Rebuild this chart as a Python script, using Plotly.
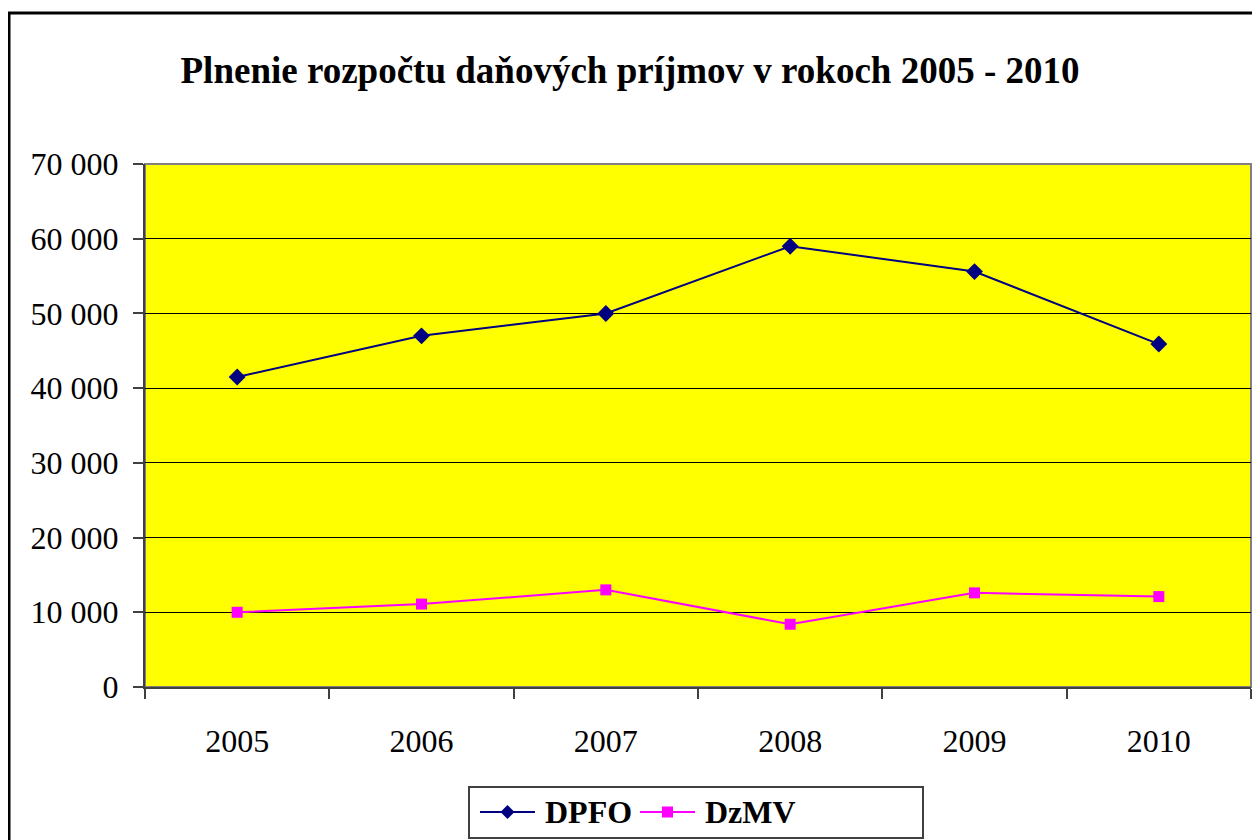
import plotly.graph_objects as go

years = ["2005", "2006", "2007", "2008", "2009", "2010"]
dpfo = [41500, 47000, 50000, 59000, 55600, 45900]
dzmv = [10000, 11100, 13000, 8400, 12600, 12100]
y_ticks = [0, 10000, 20000, 30000, 40000, 50000, 60000, 70000]
y_labels = ["0", "10 000", "20 000", "30 000", "40 000", "50 000", "60 000", "70 000"]
series_names = ["DPFO", "DzMV"]
series_colors = ["#000080", "#FF00FF"]

FONT = "Liberation Serif"

# page body has an 8px margin; work in figure pixel coords
W, H = 1252, 832
L, R, T, B = 137, 9, 156, 153
PW, PH = W - L - R, H - T - B


def px(x):
    return (x - 8 - L) / PW


def py(y):
    return (H - B - (y - 8)) / PH


fig = go.Figure()
fig.add_trace(go.Scatter(x=years, y=dpfo, name=series_names[0], mode="lines+markers",
                         line=dict(color=series_colors[0], width=2),
                         marker=dict(symbol="diamond", size=13, color=series_colors[0])))
fig.add_trace(go.Scatter(x=years, y=dzmv, name=series_names[1], mode="lines+markers",
                         line=dict(color=series_colors[1], width=2),
                         marker=dict(symbol="square", size=11, color=series_colors[1])))

fig.update_layout(
    width=W, height=H,
    margin=dict(l=L, r=R, t=T, b=B, autoexpand=False),
    paper_bgcolor="white", plot_bgcolor="#FFFF00",
    font=dict(family=FONT, color="black", size=32),
    title=dict(text="<b>Plnenie rozpočtu daňových príjmov v rokoch 2005 - 2010</b>",
               x=(630 - 8) / W, xanchor="center", y=1 - 62 / H, yanchor="middle",
               font=dict(family=FONT, size=37, color="black")),
    showlegend=False,
)
fig.update_xaxes(type="category", range=[-0.5, 5.5], tickson="boundaries",
                 ticks="outside", ticklen=10, tickcolor="#404040", tickwidth=2,
                 showline=True, linecolor="#404040", linewidth=2,
                 showgrid=False, ticklabelstandoff=25, automargin=False,
                 tickfont=dict(family=FONT, size=32, color="black"))
fig.update_yaxes(range=[0, 70000], tickvals=y_ticks, ticktext=y_labels,
                 ticks="outside", ticklen=10, tickcolor="#404040", tickwidth=2,
                 showline=True, linecolor="#404040", linewidth=2,
                 showgrid=True, gridcolor="black", gridwidth=1, zeroline=False,
                 ticklabelstandoff=8, automargin=False,
                 tickfont=dict(family=FONT, size=32, color="black"))

# plot area border (top/right grey)
fig.add_shape(type="rect", xref="paper", yref="paper", x0=0, y0=0, x1=1, y1=1,
              line=dict(color="#808080", width=2), layer="below")

# legend box (drawn manually to match long legend keys)
fig.add_shape(type="rect", xref="paper", yref="paper",
              x0=px(469), x1=px(923), y0=py(838), y1=py(787),
              line=dict(color="#404040", width=2), fillcolor="white", layer="below")
ly = py(812)
for i, (name, col) in enumerate(zip(series_names, series_colors)):
    x0 = 480 + 160 * i
    fig.add_shape(type="line", xref="paper", yref="paper",
                  x0=px(x0), x1=px(x0 + 55), y0=ly, y1=ly,
                  line=dict(color=col, width=2))
    cx = x0 + 27.5
    if i == 0:
        d = 7
        fig.add_shape(type="path", xref="paper", yref="paper",
                      path=f"M {px(cx - d)} {ly} L {px(cx)} {py(812 - d)} L {px(cx + d)} {ly} L {px(cx)} {py(812 + d)} Z",
                      fillcolor=col, line=dict(color=col, width=0))
    else:
        s = 5.5
        fig.add_shape(type="rect", xref="paper", yref="paper",
                      x0=px(cx - s), x1=px(cx + s), y0=py(812 + s), y1=py(812 - s),
                      fillcolor=col, line=dict(color=col, width=0))
    fig.add_annotation(xref="paper", yref="paper", x=px(x0 + 63), y=ly,
                       xanchor="left", yanchor="middle", showarrow=False,
                       text=f"<b>{name}</b>",
                       font=dict(family=FONT, size=32, color="black"))

# outer chart border
fig.add_shape(type="rect", xref="paper", yref="paper",
              x0=px(9), x1=px(1275), y0=py(860), y1=py(13),
              line=dict(color="black", width=3))

fig.write_html("out.html")
